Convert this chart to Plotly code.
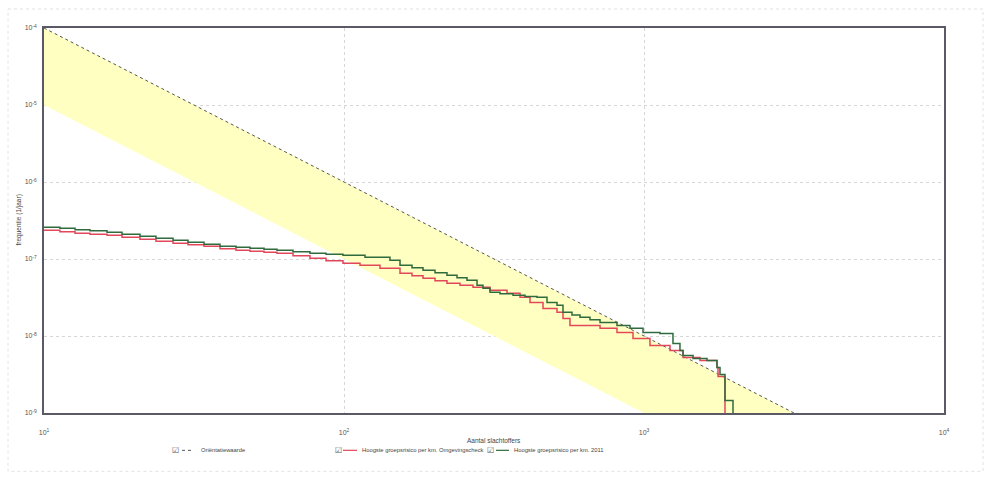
import plotly.graph_objects as go

# ---------------- data ----------------
# Orientation value (Oriëntatiewaarde) and lower edge of the yellow band
orient_N = [10, 10000]
orient_F = [1e-4, 1e-10]
band_low_N = [10, 10000]
band_low_F = [1e-5, 1e-11]

# Hoogste groepsrisico per km. 2011 (green, step curve)
green_N = [10, 11.30, 12.69, 14.23, 16.22, 18.20, 20.89, 23.62, 26.92, 30.20,
           34.15, 38.61, 43.65, 48.61, 54.12, 59.80, 67.61, 77.01, 87.10, 99.23,
           117.5, 142.3, 153.7, 168.5, 183.4, 201.1, 220.4, 238.1, 257.0, 277.6,
           290.6, 306.7, 331.1, 365.9, 401.2, 439.9, 475.0, 512.9, 537.0, 575.4,
           611.9, 660.7, 713.5, 812.8, 898.1, 992.4, 1130, 1249, 1318, 1349,
           1457, 1622, 1751, 1792, 1862, 1980]
green_F = [2.58e-7, 2.51e-7, 2.40e-7, 2.33e-7, 2.22e-7, 2.09e-7, 1.97e-7, 1.86e-7, 1.75e-7, 1.65e-7,
           1.55e-7, 1.46e-7, 1.42e-7, 1.38e-7, 1.34e-7, 1.30e-7, 1.24e-7, 1.19e-7, 1.15e-7, 1.12e-7,
           1.05e-7, 9.62e-8, 8.28e-8, 7.68e-8, 7.13e-8, 6.61e-8, 6.14e-8, 5.69e-8, 5.28e-8, 4.55e-8,
           4.16e-8, 3.69e-8, 3.53e-8, 3.37e-8, 3.27e-8, 3.18e-8, 2.73e-8, 2.50e-8, 2.03e-8, 1.88e-8,
           1.75e-8, 1.62e-8, 1.50e-8, 1.37e-8, 1.26e-8, 1.11e-8, 1.08e-8, 8.01e-9, 6.50e-9, 5.59e-9,
           5.11e-9, 4.82e-9, 3.91e-9, 3.17e-9, 1.45e-9, 1e-10]

# Hoogste groepsrisico per km. Omgevingscheck (red, step curve)
red_N = [10, 11.30, 12.69, 14.23, 16.22, 18.20, 20.89, 23.62, 26.92, 30.20,
         34.15, 38.61, 43.65, 48.61, 54.12, 59.80, 67.61, 77.01, 87.10, 99.23,
         113.1, 131.8, 153.7, 168.5, 183.4, 201.1, 220.4, 243.6, 269.2, 306.7,
         349.4, 386.2, 416.9, 460.6, 512.9, 537.0, 566.6, 713.5, 812.8, 919,
         1047, 1221, 1349, 1537, 1751, 1765, 1862]
red_F = [2.36e-7, 2.26e-7, 2.16e-7, 2.09e-7, 2.03e-7, 1.91e-7, 1.80e-7, 1.70e-7, 1.60e-7, 1.53e-7,
         1.46e-7, 1.36e-7, 1.30e-7, 1.26e-7, 1.22e-7, 1.19e-7, 1.10e-7, 1.02e-7, 9.48e-8, 8.79e-8,
         8.28e-8, 7.57e-8, 6.52e-8, 6.05e-8, 5.61e-8, 5.20e-8, 4.83e-8, 4.55e-8, 4.29e-8, 3.92e-8,
         3.58e-8, 3.18e-8, 2.73e-8, 2.28e-8, 2.03e-8, 1.69e-8, 1.37e-8, 1.26e-8, 1.11e-8, 9.31e-9,
         7.55e-9, 6.50e-9, 5.27e-9, 4.82e-9, 3.91e-9, 2.98e-9, 1e-10]

x_tickvals = [10, 100, 1000, 10000]
x_ticktext = ["10<sup>1</sup>", "10<sup>2</sup>", "10<sup>3</sup>", "10<sup>4</sup>"]
y_tickvals = [1e-4, 1e-5, 1e-6, 1e-7, 1e-8, 1e-9]
y_ticktext = ["10<sup>-4</sup>", "10<sup>-5</sup>", "10<sup>-6</sup>",
              "10<sup>-7</sup>", "10<sup>-8</sup>", "10<sup>-9</sup>"]

legend_names = ["Oriëntatiewaarde",
                "Hoogste groepsrisico per km. Omgevingscheck",
                "Hoogste groepsrisico per km. 2011"]

# ---------------- styling ----------------
FONT = "Liberation Sans, Arial, sans-serif"
RED = "#E2475A"
GREEN = "#2F6B3C"
ORIENT = "#555555"
BAND = "#FFFFC2"

W, H = 991, 479
L, R, T, B = 44, 944, 28, 412.7


def pxx(p):
    return (p - L) / (R - L)


def pxy(p):
    return (B - p) / (B - T)


fig = go.Figure()

# yellow band: lower edge then upper edge filled to it
fig.add_trace(go.Scatter(x=band_low_N, y=band_low_F, mode="lines",
                         line=dict(width=0, color=BAND), showlegend=False,
                         hoverinfo="skip"))
fig.add_trace(go.Scatter(x=orient_N, y=orient_F, mode="lines",
                         line=dict(width=0, color=BAND), fill="tonexty",
                         fillcolor=BAND, showlegend=False, hoverinfo="skip"))

fig.add_trace(go.Scatter(x=orient_N, y=orient_F, mode="lines", name=legend_names[0],
                         line=dict(color=ORIENT, width=1, dash="dot"), showlegend=False))
fig.add_trace(go.Scatter(x=red_N, y=red_F, mode="lines", name=legend_names[1],
                         line=dict(color=RED, width=1.5, shape="hv"), showlegend=False))
fig.add_trace(go.Scatter(x=green_N, y=green_F, mode="lines", name=legend_names[2],
                         line=dict(color=GREEN, width=1.5, shape="hv"), showlegend=False))

axis_common = dict(showline=True, linecolor="#5a5a66", linewidth=1.5, mirror=True,
                   showgrid=True, gridcolor="#D6D6D6", griddash="dot", gridwidth=1,
                   ticks="", zeroline=False,
                   tickfont=dict(family=FONT, size=7, color="#555555"))

fig.update_xaxes(type="log", range=[1, 4], tickvals=x_tickvals, ticktext=x_ticktext,
                 ticklabelstandoff=12, **axis_common)
fig.update_yaxes(type="log", range=[-9, -4], tickvals=y_tickvals, ticktext=y_ticktext,
                 ticklabelstandoff=4, **axis_common)

annotations = [
    dict(text="Aantal slachtoffers", x=0.5, y=pxy(440), xref="paper", yref="paper",
         showarrow=False, font=dict(family=FONT, size=6.5, color="#444444"),
         xanchor="center", yanchor="middle"),
    dict(text="frequentie (1/jaar)", x=pxx(18), y=0.5, xref="paper", yref="paper",
         showarrow=False, textangle=-90, font=dict(family=FONT, size=6.5, color="#444444"),
         xanchor="center", yanchor="middle"),
]
shapes = []

# manual legend with check boxes
leg_y = 450
leg_items = [
    (175, 182, 194, 199, legend_names[0], dict(color=ORIENT, width=1, dash="dot")),
    (338, 343, 357, 360, legend_names[1], dict(color=RED, width=1.2)),
    (490, 496, 509, 512, legend_names[2], dict(color=GREEN, width=1.2)),
]
for cb_x, l0, l1, tx, name, ln in leg_items:
    annotations.append(dict(text="☑", x=pxx(cb_x), y=pxy(leg_y), xref="paper", yref="paper",
                            showarrow=False, font=dict(family="DejaVu Sans", size=8, color="#555555"),
                            xanchor="center", yanchor="middle"))
    shapes.append(dict(type="line", xref="paper", yref="paper",
                       x0=pxx(l0), x1=pxx(l1), y0=pxy(leg_y), y1=pxy(leg_y), line=ln))
    annotations.append(dict(text=name, x=pxx(tx), y=pxy(leg_y), xref="paper", yref="paper",
                            showarrow=False, font=dict(family=FONT, size=5.8, color="#444444"),
                            xanchor="left", yanchor="middle"))

# faint outer page frame
shapes.append(dict(type="rect", xref="paper", yref="paper",
                   x0=pxx(8), x1=pxx(983), y0=pxy(9), y1=pxy(471),
                   line=dict(color="#E2E2E2", width=1, dash="dot"), layer="below"))

fig.update_layout(width=W, height=H, margin=dict(l=L, r=W - R, t=T, b=H - B),
                  paper_bgcolor="white", plot_bgcolor="white",
                  annotations=annotations, shapes=shapes, showlegend=False,
                  font=dict(family=FONT))

fig.write_html("out.html")
